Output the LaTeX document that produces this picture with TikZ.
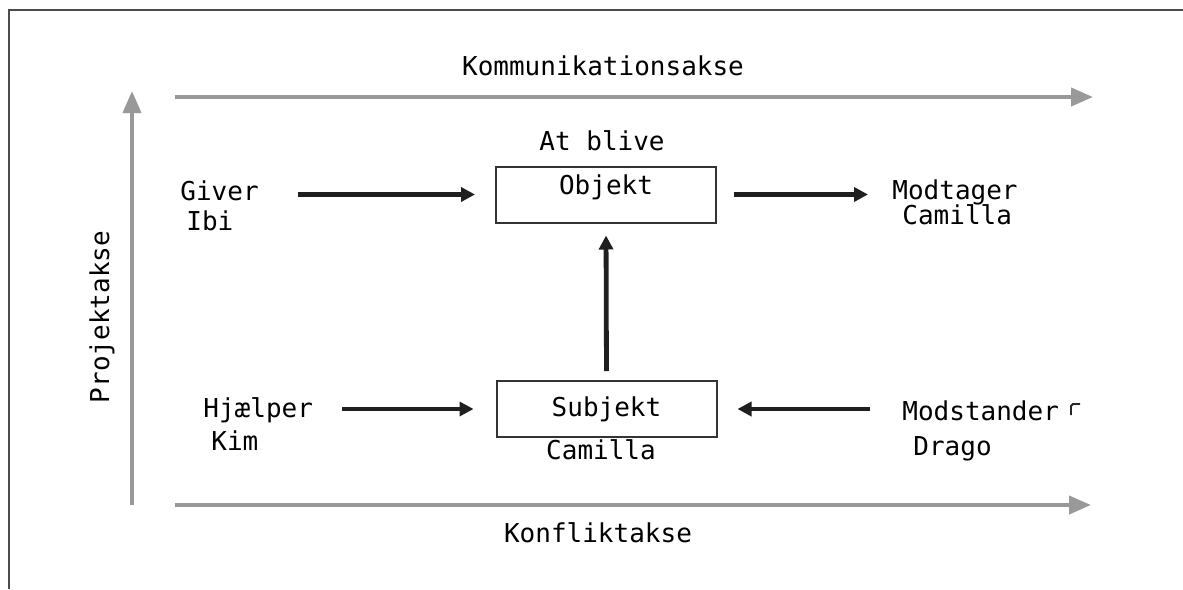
\documentclass[tikz,border=0pt]{standalone}
\usepackage{fontspec}
\setmonofont{DejaVu Sans Mono}
\usetikzlibrary{calc, arrows.meta}

\tikzset{
	akse/.style={draw=black!40, line width=2pt, -{Triangle[length=11pt,width=9pt]}},
	pil/.style={draw=black!88, line width=2.4pt, -{Triangle[length=7pt,width=7pt]}},
	felt/.style={draw=black!80, line width=1pt, minimum width=110pt, minimum height=28pt},
	tekst/.style={font=\ttfamily\fontsize{13}{15}\selectfont, inner sep=0pt, text height=9.5pt, text depth=2.5pt},
}

\begin{document}
\begin{tikzpicture}[x=0.5pt, y=-0.5pt]
					\useasboundingbox (0,0) rectangle (1183,589);
					\draw[black!70, line width=1pt] (9,589) -- (9,10) -- (1183,10);
					
					\coordinate (k1) at (175,97);
					\coordinate (k2) at (1093,97);
					\coordinate (f1) at (175,505);
					\coordinate (f2) at (1091,505);
					\coordinate (p1) at (132,505);
					\coordinate (p2) at (132,91);
					
					\begin{scope}
						\draw[akse] (k1) -- (k2);
						\draw[akse] (f1) -- (f2);
						\draw[akse] (p1) -- (p2);
						
						\node[tekst] (kom) at (603,68) {Kommunikationsakse};
						\node[tekst] (konf) at (598,535) {Konfliktakse};
						\node[tekst, rotate=90] (proj) at (102,317) {Projektakse};
					\end{scope}
					
					\begin{scope}
						\node[felt, tekst, text depth=9.5pt] (objekt) at (606,194.5) {Objekt};
						\node[felt, tekst] (subjekt) at (606.5,409) {Subjekt};
						\node[tekst] (atblive) at (602,143) {At blive};
						\node[tekst] (camilla) at (601,452) {Camilla};
						
						\node[tekst, anchor=west] (giver) at (180,193) {Giver};
						\node[tekst, anchor=west] (ibi) at (186,223) {Ibi};
						\node[tekst, anchor=west] (modtager) at (892,192) {Modtager};
						\node[tekst, anchor=west] (camilla2) at (902,217) {Camilla};
						\node[tekst, anchor=west] (hjaelper) at (203,410) {Hjælper};
						\node[tekst, anchor=west] (kim) at (211,443) {Kim};
						\node[tekst, anchor=west] (modstander) at (902,413) {Modstander};
						\node[tekst, anchor=west] (drago) at (913,448) {Drago};
						\draw[black!85, line width=0.9pt] (1071,415) -- (1071,406) -- (1073,404) -- (1080,404);
					\end{scope}
					
					\begin{scope}
						\draw[pil, shorten <=19.5pt, shorten >=10pt] (giver.east |- objekt.west) -- (objekt.west);
						\draw[pil, shorten <=8.5pt, shorten >=12pt] (objekt.east) -- (objekt.east -| modtager.west);
						\draw[pil, shorten <=4.5pt, shorten >=6pt] (subjekt.north) -- (objekt.south);
						\draw[pil, shorten <=14.5pt, shorten >=11pt] (hjaelper.east |- subjekt.west) -- (subjekt.west);
						\draw[pil, shorten <=16pt, shorten >=10pt] (modstander.west |- subjekt.east) -- (subjekt.east);
					\end{scope}
				\end{tikzpicture}
\end{document}
